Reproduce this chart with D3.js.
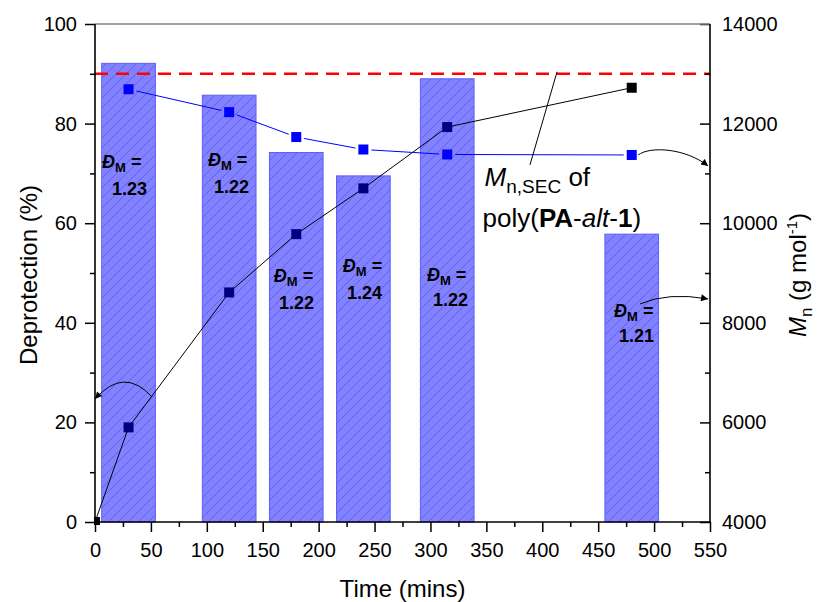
<!DOCTYPE html>
<html><head><meta charset="utf-8">
<script src="https://cdn.jsdelivr.net/npm/d3@7"></script>
<style>
body{margin:0;background:#fff}
svg{display:block}
text{font-family:"Liberation Sans",Arial,Helvetica,sans-serif}
</style>
</head><body>
<svg id="c" width="817" height="602"></svg>
<script>
// ---------------- data ----------------
const barTimes = [30, 120, 180, 240, 315, 480];
const barMn = [13210, 12570, 11420, 10950, 12900, 9780];          // g/mol, right axis
const dispersity = ["1.23", "1.22", "1.22", "1.24", "1.22", "1.21"];
const blueTimes = [30, 120, 180, 240, 315, 480];
const blueMn = [12690, 12230, 11730, 11480, 11380, 11370];         // g/mol, right axis
const deprotTimes = [0, 30, 120, 180, 240, 315, 480];
const deprotection = [0, 19.0, 46.1, 57.8, 67.0, 79.3, 87.2];     // %, left axis
const mnTarget = 13000;                                             // red dashed line
const xTicks = [0, 50, 100, 150, 200, 250, 300, 350, 400, 450, 500, 550];
const xMinor = [25, 75, 125, 175, 225, 275, 325, 375, 425, 475, 525];
const leftTicks = [0, 20, 40, 60, 80, 100];
const leftMinor = [10, 30, 50, 70, 90];
const rightTicks = [4000, 6000, 8000, 10000, 12000, 14000];
const rightMinor = [5000, 7000, 9000, 11000, 13000];

// ---------------- layout ----------------
const M = {left: 95, right: 710, top: 24, bottom: 522};
const barWidth = 48; // minutes
// label anchor positions (data units: time, %)
const labelLayout = [
  {x1: 6.3, y1: 71.1, x2: 15.2, y2: 65.7},
  {x1: 101, y1: 71.5, x2: 106.4, y2: 66.1},
  {x1: 159.9, y1: 48.2, x2: 164.6, y2: 42.8},
  {x1: 221.6, y1: 50.2, x2: 225.4, y2: 44.8},
  {x1: 296.9, y1: 48.4, x2: 302.3, y2: 43.4},
  {x1: 464.2, y1: 41.2, x2: 468.7, y2: 36.1}
];

const svg = d3.select("#c");
const x = d3.scaleLinear().domain([0, 550]).range([M.left, M.right]);
const yL = d3.scaleLinear().domain([0, 100]).range([M.bottom, M.top]);
const yR = d3.scaleLinear().domain([4000, 14000]).range([M.bottom, M.top]);

const defs = svg.append("defs");
const P = 10;
const pat = defs.append("pattern").attr("id", "hatch")
  .attr("patternUnits", "userSpaceOnUse").attr("width", P).attr("height", P);
pat.append("rect").attr("width", P).attr("height", P).attr("fill", "#8282ff");
pat.append("path").attr("d", `M0,${P} L${P},0 M-2,2 L2,-2 M${P-2},${P+2} L${P+2},${P-2}`)
  .attr("stroke", "#4646ee").attr("stroke-width", 0.6);
defs.append("clipPath").attr("id", "plotclip").append("rect")
  .attr("x", M.left - 1).attr("y", 0).attr("width", M.right - M.left + 1).attr("height", M.bottom + 3);
const mk = defs.append("marker").attr("id", "arr").attr("viewBox", "0 0 10 10")
  .attr("refX", 10).attr("refY", 5).attr("markerWidth", 9).attr("markerHeight", 7)
  .attr("markerUnits", "userSpaceOnUse").attr("orient", "auto");
mk.append("path").attr("d", "M0,0 L10,5 L0,10 Z").attr("fill", "#000");

// bars
svg.append("g").selectAll("rect").data(barTimes).join("rect")
  .attr("x", d => x(d - barWidth / 2))
  .attr("width", d => x(d + barWidth / 2) - x(d - barWidth / 2))
  .attr("y", (d, i) => yR(barMn[i]))
  .attr("height", (d, i) => yR(4000) - yR(barMn[i]))
  .attr("fill", "url(#hatch)")
  .attr("stroke", "#5c5cff").attr("stroke-width", 1);

// red dashed line
svg.append("line")
  .attr("x1", x(0)).attr("x2", x(550))
  .attr("y1", yR(mnTarget)).attr("y2", yR(mnTarget))
  .attr("stroke", "#ff0000").attr("stroke-width", 2.6)
  .attr("stroke-dasharray", "13,8");

// black deprotection line
const dp = deprotTimes.map((t, i) => [x(t), yL(deprotection[i])]);
svg.append("path").attr("d", d3.line()(dp))
  .attr("fill", "none").attr("stroke", "#000").attr("stroke-width", 1);

// blue line with gaps around symbols
const bp = blueTimes.map((t, i) => [x(t), yR(blueMn[i])]);
const gap = 8;
const gBlue = svg.append("g");
for (let i = 0; i < bp.length - 1; i++) {
  const [x0, y0] = bp[i], [x1, y1] = bp[i + 1];
  const L = Math.hypot(x1 - x0, y1 - y0), ux = (x1 - x0) / L, uy = (y1 - y0) / L;
  gBlue.append("line")
    .attr("x1", x0 + ux * gap).attr("y1", y0 + uy * gap)
    .attr("x2", x1 - ux * gap).attr("y2", y1 - uy * gap)
    .attr("stroke", "#0000ff").attr("stroke-width", 1);
}

// markers
const S = 10;
const gm = svg.append("g").attr("clip-path", "url(#plotclip)");
gm.selectAll("rect.b").data(bp).join("rect").attr("class", "b")
  .attr("x", d => d[0] - S / 2).attr("y", d => d[1] - S / 2)
  .attr("width", S).attr("height", S).attr("fill", "#0000ff");
gm.selectAll("rect.k").data(dp).join("rect").attr("class", "k")
  .attr("x", d => d[0] - S / 2).attr("y", d => d[1] - S / 2)
  .attr("width", S).attr("height", S)
  .attr("fill", (d, i) => (i === 0 || i === dp.length - 1) ? "#000000" : "#000080");

// dispersity labels
const gl = svg.append("g").attr("font-weight", "bold").attr("fill", "#000");
labelLayout.forEach((p, i) => {
  const t = gl.append("text").attr("x", x(p.x1)).attr("y", yL(p.y1)).attr("font-size", 18);
  t.append("tspan").attr("font-style", "italic").text("\u0110");
  t.append("tspan").attr("font-size", 13).attr("dy", 4).text("M");
  t.append("tspan").attr("dy", -4).text(" =");
  gl.append("text").attr("x", x(p.x2)).attr("y", yL(p.y2)).attr("font-size", 18).text(dispersity[i]);
});

// annotation arrows (data units)
const arrows = [
  {p: [[51, 25.1], [26, 31.3], [0, 24.7]]},
  {p: [[485.7, 73.7], [496.4, 75.5], [527.7, 75.1], [548.3, 71.5]]},
  {p: [[487.5, 43.8], [512.5, 46.2], [548.3, 44.8]]}
];
arrows.forEach(a => {
  const q = a.p.map(d => [x(d[0]), yL(d[1])]);
  let d = `M${q[0][0]},${q[0][1]} `;
  d += q.length === 3 ? `Q${q[1][0]},${q[1][1]} ${q[2][0]},${q[2][1]}`
                      : `C${q[1][0]},${q[1][1]} ${q[2][0]},${q[2][1]} ${q[3][0]},${q[3][1]}`;
  svg.append("path").attr("d", d).attr("fill", "none").attr("stroke", "#000")
    .attr("stroke-width", 1).attr("marker-end", "url(#arr)");
});
// pointer line for Mn,SEC label
svg.append("line").attr("x1", x(389)).attr("y1", yL(71.7)).attr("x2", x(413.2)).attr("y2", yL(90.4))
  .attr("stroke", "#000").attr("stroke-width", 1);

const ta = svg.append("text").attr("x", x(348.4)).attr("y", yL(67.4)).attr("font-size", 26);
ta.append("tspan").attr("font-style", "italic").text("M");
ta.append("tspan").attr("font-size", 19).attr("dy", 7).text("n,SEC");
ta.append("tspan").attr("dy", -7).text(" of");
const tb = svg.append("text").attr("x", x(346.6)).attr("y", yL(59.2)).attr("font-size", 26);
tb.append("tspan").text("poly(");
tb.append("tspan").attr("font-weight", "bold").text("PA");
tb.append("tspan").text("-");
tb.append("tspan").attr("font-style", "italic").text("alt");
tb.append("tspan").text("-");
tb.append("tspan").attr("font-weight", "bold").text("1");
tb.append("tspan").text(")");

// ---------------- axes ----------------
function styleAxis(g) {
  g.selectAll("text").attr("font-size", 20).attr("fill", "#000")
    .attr("font-family", '"Liberation Sans",Arial,sans-serif');
  g.selectAll("line").attr("stroke", "#000").attr("stroke-width", 1.5);
  g.select(".domain").remove();
}
svg.append("g").attr("transform", `translate(${M.left},0)`)
  .call(d3.axisLeft(yL).tickValues(leftTicks).tickSize(10).tickPadding(8).tickFormat(d3.format("d")))
  .call(styleAxis);
svg.append("g").attr("transform", `translate(${M.left},0)`)
  .call(d3.axisLeft(yL).tickValues(leftMinor).tickSize(5).tickFormat(""))
  .call(styleAxis);
svg.append("g").attr("transform", `translate(0,${M.bottom})`)
  .call(d3.axisBottom(x).tickValues(xTicks).tickSize(10).tickPadding(11).tickFormat(d3.format("d")))
  .call(styleAxis);
svg.append("g").attr("transform", `translate(0,${M.bottom})`)
  .call(d3.axisBottom(x).tickValues(xMinor).tickSize(5).tickFormat(""))
  .call(styleAxis);
svg.append("g").attr("transform", `translate(${M.right},0)`)
  .call(d3.axisRight(yR).tickValues(rightTicks).tickSize(-10).tickPadding(12).tickFormat(d3.format("d")))
  .call(styleAxis);
svg.append("g").attr("transform", `translate(${M.right},0)`)
  .call(d3.axisRight(yR).tickValues(rightMinor).tickSize(-5).tickFormat(""))
  .call(styleAxis);

// frame lines
svg.append("line").attr("x1", M.left).attr("x2", M.right).attr("y1", M.top).attr("y2", M.top)
  .attr("stroke", "#808080").attr("stroke-width", 1.5);
svg.append("line").attr("x1", M.left).attr("x2", M.left).attr("y1", M.top).attr("y2", M.bottom)
  .attr("stroke", "#000").attr("stroke-width", 1.6);
svg.append("line").attr("x1", M.right).attr("x2", M.right).attr("y1", M.top).attr("y2", M.bottom)
  .attr("stroke", "#000").attr("stroke-width", 1.6);
svg.append("line").attr("x1", M.left - 0.8).attr("x2", M.right + 0.8).attr("y1", M.bottom).attr("y2", M.bottom)
  .attr("stroke", "#000").attr("stroke-width", 1.6);

// axis titles
svg.append("text").attr("x", (M.left + M.right) / 2).attr("y", 597)
  .attr("text-anchor", "middle").attr("font-size", 24).text("Time (mins)");
svg.append("text").attr("transform", `translate(37,${(M.top + M.bottom) / 2 + 2}) rotate(-90)`)
  .attr("text-anchor", "middle").attr("font-size", 24).text("Deprotection (%)");
const rt = svg.append("text").attr("transform", `translate(806,${(M.top + M.bottom) / 2 + 2}) rotate(-90)`)
  .attr("text-anchor", "middle").attr("font-size", 24);
rt.append("tspan").attr("font-style", "italic").text("M");
rt.append("tspan").attr("font-size", 17).attr("dy", 6).text("n");
rt.append("tspan").attr("dy", -6).text(" (g mol");
rt.append("tspan").attr("font-size", 15).attr("dy", -9).text("-1");
rt.append("tspan").attr("dy", 9).text(")");
</script>
</body></html>
